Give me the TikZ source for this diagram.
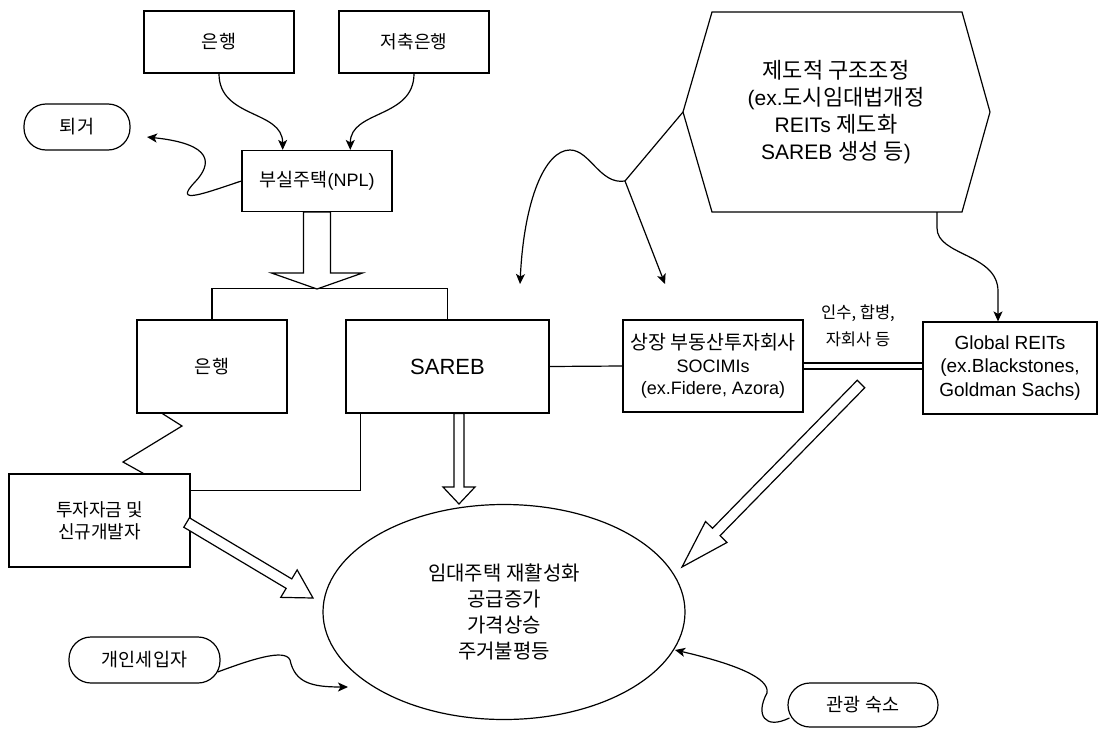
\documentclass[tikz,border=0pt]{standalone}
\usepackage{fontspec}
\setmainfont{Liberation Sans}
\newfontfamily\krfont{Noto Sans CJK KR}
\usetikzlibrary{calc,arrows.meta,shapes.geometric}
\newcommand\fsz[2]{\fontsize{#1}{#2}\selectfont}
\tikzset{
  box/.style={draw, line width=1.2pt, rectangle, inner sep=0pt, align=center},
  pill/.style={draw, line width=1.2pt, rectangle, rounded corners=22pt, inner sep=0pt, align=center, font=\krfont\fsz{18.5}{22}},
  conn/.style={line width=1.2pt, -{Stealth[length=10pt,width=9pt,inset=2.5pt]}},
  plain/.style={line width=1.2pt},
  hollow/.style={draw, line width=1.2pt, fill=white, line join=miter},
}
\newcommand\hollowarrow[5]{%
  \path let \p1=($(#2)-(#1)$) in \pgfextra{%
    \pgfmathsetmacro\tmpang{atan2(\y1,\x1)}%
    \pgfmathsetmacro\tmplen{veclen(\x1,\y1)}%
    \global\let\haang\tmpang \global\let\halen\tmplen};
  \begin{scope}[shift={(#1)},rotate=\haang]
    \draw[hollow] (0pt,#3pt) -- ({\halen pt-#5pt},#3pt) -- ({\halen pt-#5pt},#4pt) -- (\halen pt,0pt)
      -- ({\halen pt-#5pt},-#4pt) -- ({\halen pt-#5pt},-#3pt) -- (0pt,-#3pt) -- cycle;
  \end{scope}}
\begin{document}
\begin{tikzpicture}[x=1pt,y=-1pt]
\useasboundingbox (0,0) rectangle (1100,728);

% boxes
\node[box, minimum width=150pt, minimum height=62pt, font=\krfont\fsz{18.5}{22}] (bank1) at (219,42) {은행};
\node[box, minimum width=150pt, minimum height=62pt, font=\krfont\fsz{18}{22}] (savings) at (414,42) {저축은행};
\node[pill, minimum width=106pt, minimum height=46pt] (evict) at (77,127) {퇴거};
\node[box, minimum width=150pt, minimum height=61pt, font=\fsz{18}{22}] (npl) at (317,181) {{\krfont\fsz{18.5}{22}부실주택}(NPL)};
\node[box, minimum width=150pt, minimum height=93pt, font=\krfont\fsz{18.5}{22}] (bank2) at (212,366.5) {은행};
\node[box, minimum width=203pt, minimum height=93pt, font=\fsz{22}{26}] (sareb) at (447.5,366.5) {SAREB};
\node[box, minimum width=181pt, minimum height=93pt, font=\krfont\fsz{18}{22}] (invest) at (99.5,520.5) {투자자금 및\\신규개발자};
\node[box, minimum width=180pt, minimum height=92pt, font=\fsz{18}{22.5}] (socimi) at (713,366) {{\krfont\fsz{19.5}{22.5}상장 부동산투자회사}\\SOCIMIs\\(ex.Fidere, Azora)};
\node[box, minimum width=174pt, minimum height=92pt, font=\fsz{19}{23.5}] (global) at (1010,368) {Global REITs\\(ex.Blackstones,\\Goldman Sachs)};
\node[draw, ellipse, line width=1.2pt, minimum width=362pt, minimum height=215pt, inner sep=0pt, align=center, font=\krfont\fsz{20}{26}] (ell) at (504,612) {임대주택 재활성화\\공급증가\\가격상승\\주거불평등};
\node[pill, minimum width=151pt, minimum height=46pt] (tenant) at (144.5,660) {개인세입자};
\node[pill, minimum width=150pt, minimum height=44pt] (tour) at (863,705) {관광 숙소};
\node[align=center, font=\krfont\fsz{16.5}{27}] (lbl) at (858,326) {인수, 합병,\\자회사 등};

% hexagon
\node[align=center, font=\fsz{21}{27}] (hex) at (836,112) {{\krfont\fsz{22}{27}제도적 구조조정}\\(ex.{\krfont\fsz{22}{27}도시임대법개정}\\REITs {\krfont\fsz{22}{27}제도화}\\SAREB {\krfont\fsz{22}{27}생성 등})};
\draw[plain] ($(hex)+(-124,-100)$) -- ($(hex)+(126,-100)$) -- ($(hex)+(154,0)$) -- ($(hex)+(126,100)$) -- ($(hex)+(-124,100)$) -- ($(hex)+(-153,0)$) -- cycle;
\coordinate (hexL) at ($(hex)+(-153,0)$);
\coordinate (hexB) at ($(hex)+(101,100)$);
\coordinate (fork) at (625,181);
\coordinate (tipA) at (520,284);
\coordinate (tipB) at (665,284);
\draw[plain] (hexL) -- (fork);
\draw[conn] (fork) .. controls (600,185) and (590,150) .. (570,150) .. controls (545,150) and (524,200) .. (tipA);
\draw[conn] (fork) -- (tipB);
\draw[conn] (hexB) -- ++(0,16) .. controls +(0,28) and +(0,-38) .. ($(global.north)+(-12,-30)$) -- ($(global.north)+(-12,0)$);

% top arrows
\draw[conn] (bank1.south) .. controls +(0,45) and +(0,-40) .. ($(npl.north west)!0.273!(npl.north east)$);
\draw[conn] (savings.south) .. controls +(0,45) and +(0,-40) .. ($(npl.north west)!0.72!(npl.north east)$);
\coordinate (evictTip) at (147,137);
\draw[conn] (npl.west) .. controls (205,193) and (172,206) .. (195,182) .. controls (212,164) and (214,144) .. (evictTip);

% bracket and links
\draw[plain] (bank2.north) -- ++(0,-31) -| (sareb.north);
\draw[plain] ($(bank2.south west)+(26,0)$) -- (182,426) -- (123,462) -- ($(invest.north west)+(135,0)$);
\draw[plain] ($(sareb.south west)+(15,0)$) |- ($(invest.north east)+(0,17)$);
\draw[plain] (sareb.east) -- (socimi.west);
\draw[plain, double, double distance=4.8pt] (socimi.east) -- (socimi.east -| global.west);

% curved arrows into ellipse
\coordinate (tenTip) at (348,687);
\draw[conn] ($(tenant.east)+(-3,12)$) .. controls (250,660) and (285,648) .. (290,660) .. controls (295,683) and (312,687) .. (tenTip);
\coordinate (tourTip) at (675,650);
\draw[conn] ($(tour.west)+(2,13)$) .. controls (765,730) and (755,715) .. (767,693) .. controls (770,678) and (735,664) .. (tourTip);

% hollow arrows
\coordinate (brk) at (317,289);
\hollowarrow{npl.south}{brk}{13.5}{45.5}{16}
\coordinate (sarebS) at ($(sareb.south)+(11.5,0)$);
\coordinate (sarebTip) at (459,504);
\hollowarrow{sarebS}{sarebTip}{5}{16}{17}
\coordinate (invT) at ($(invest.east)+(-4,2)$);
\coordinate (invTip) at (313,598);
\hollowarrow{invT}{invTip}{5.5}{16}{28}
\coordinate (globT) at (861,384);
\coordinate (globTip) at (682,567);
\hollowarrow{globT}{globTip}{5.3}{15}{49}
\end{tikzpicture}
\end{document}
